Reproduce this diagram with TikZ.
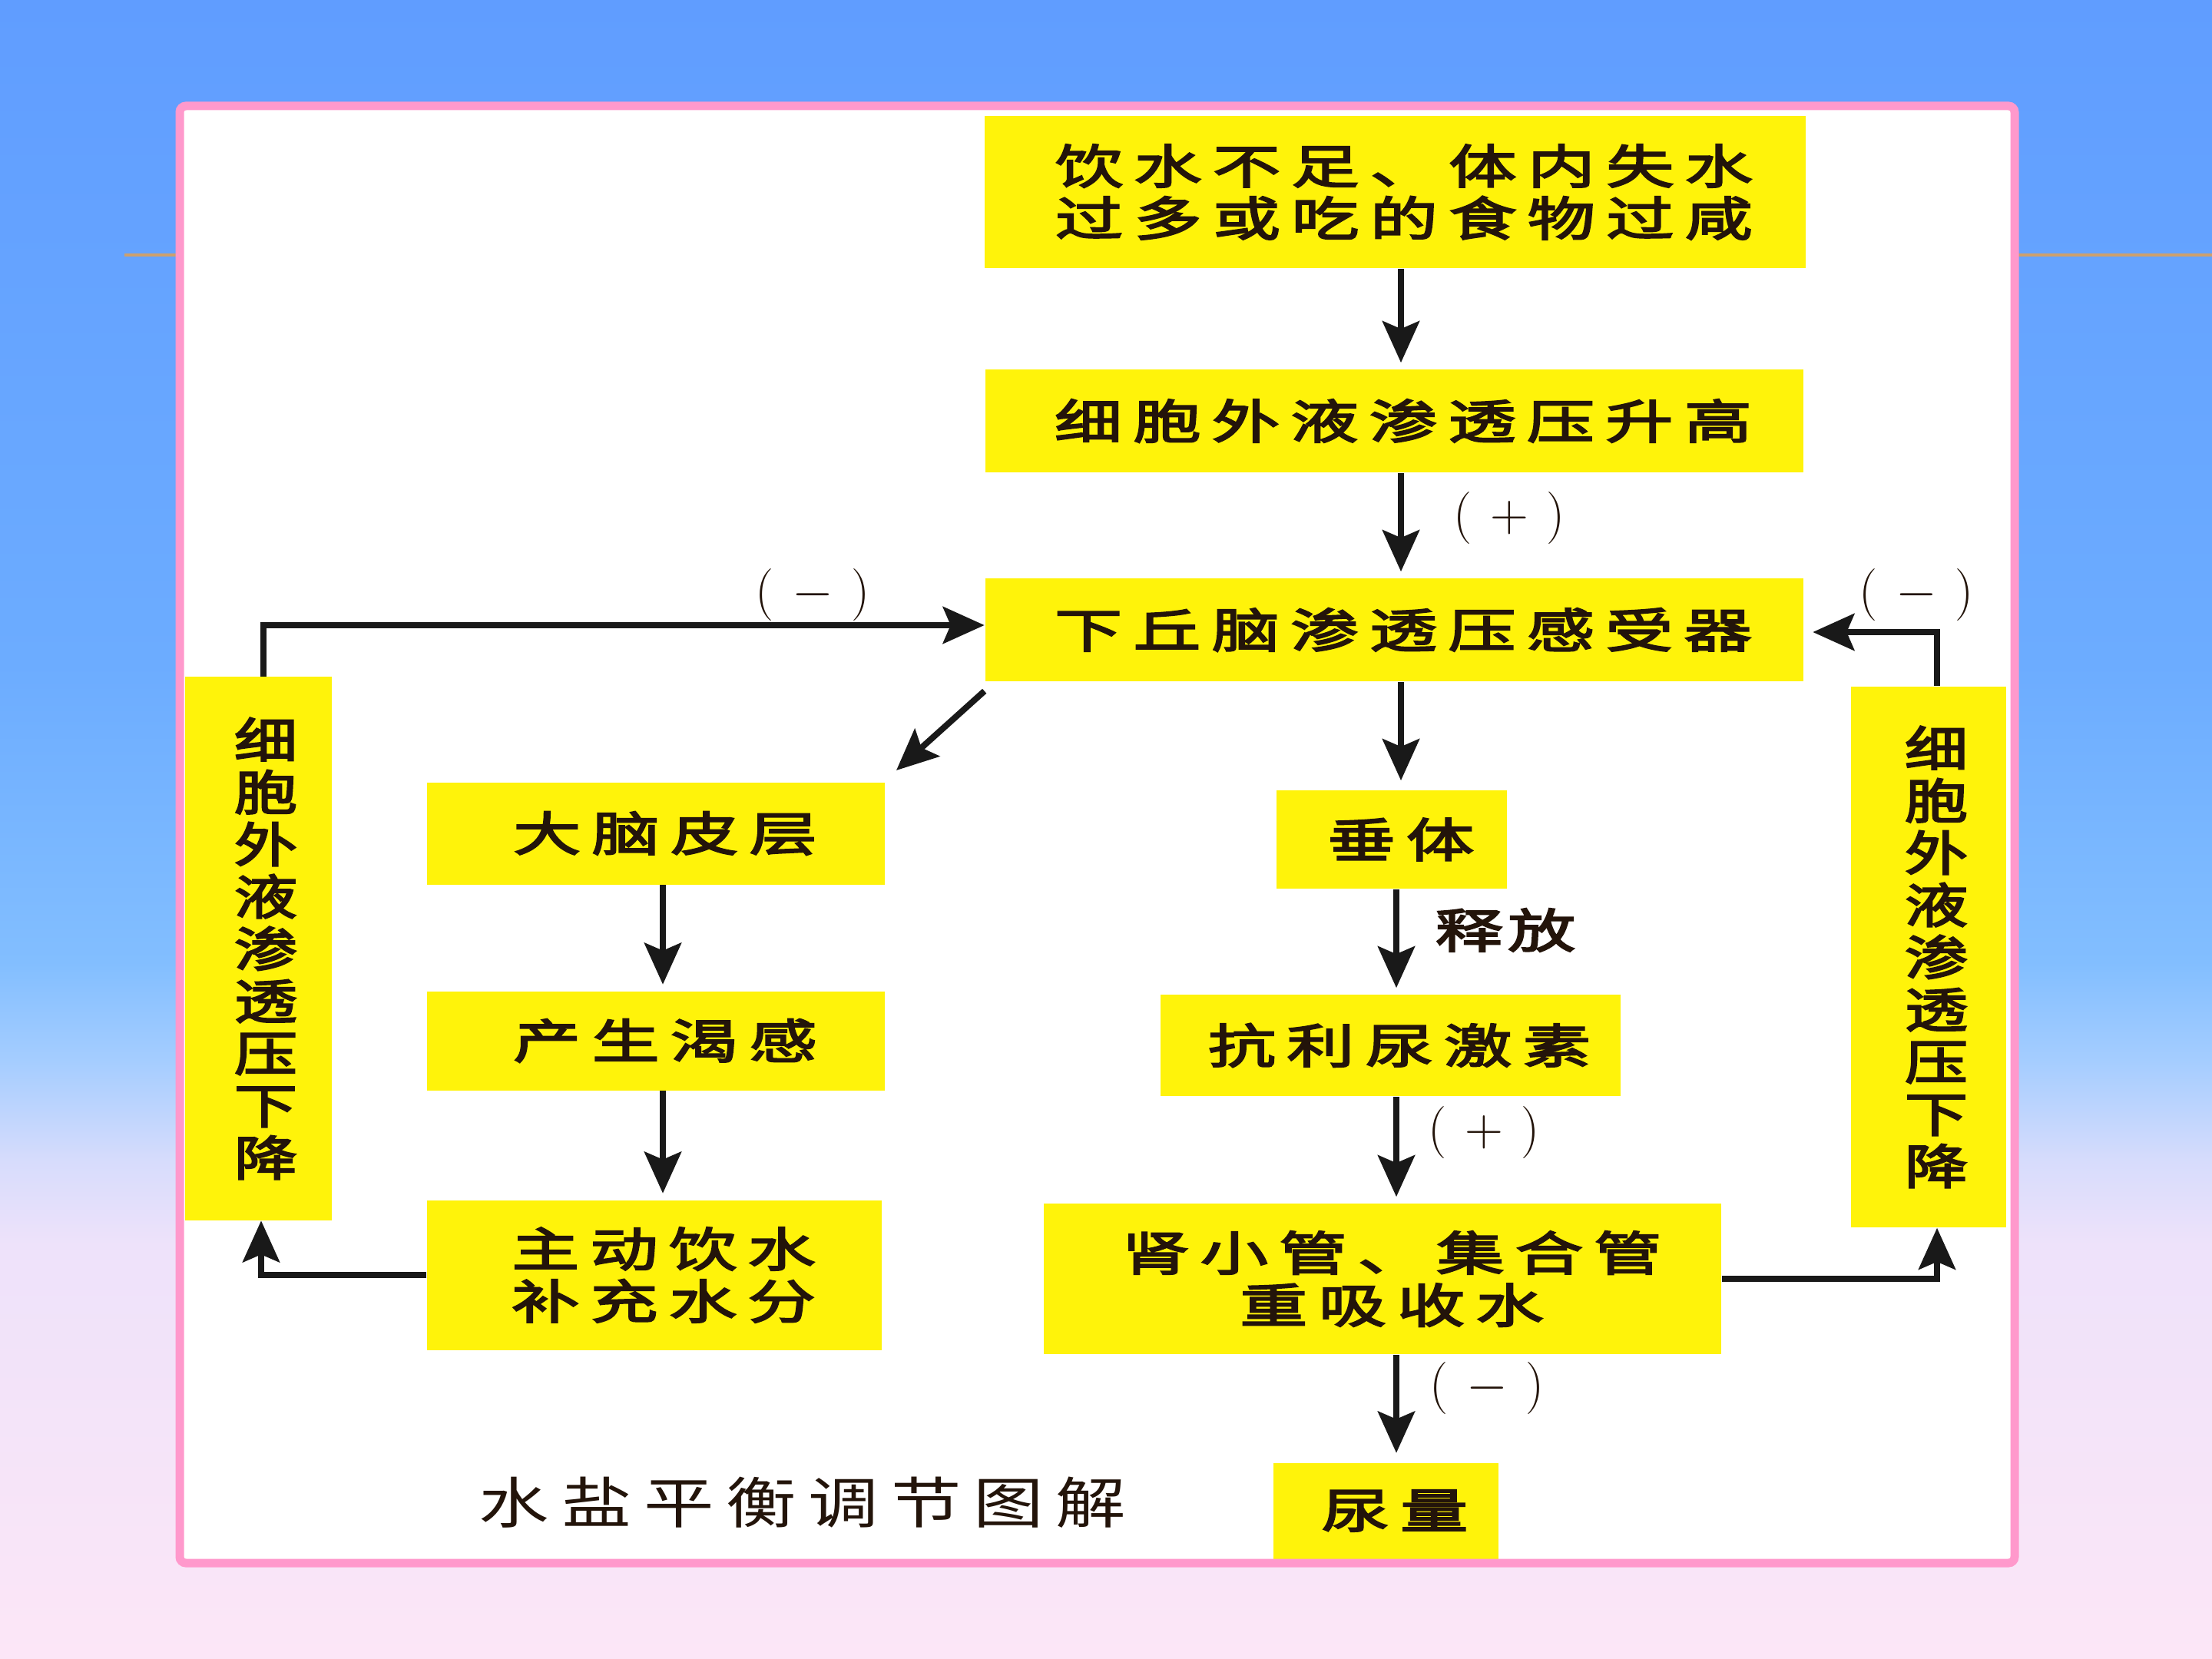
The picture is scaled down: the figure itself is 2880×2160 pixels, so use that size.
\documentclass[tikz,border=0pt]{standalone}
\usepackage{fontspec}
\usetikzlibrary{arrows.meta}
\newfontfamily\cjkbox[FakeStretch=1.45,LetterSpace=23,FakeBold=3.5]{Noto Sans CJK SC}
\newfontfamily\cjkvert[FakeStretch=1.33,FakeBold=3.5]{Noto Sans CJK SC}
\newfontfamily\cjkcap[FakeStretch=1.27,LetterSpace=22]{Noto Sans CJK SC}
\newfontfamily\cjkrel[FakeStretch=1.45,LetterSpace=10,FakeBold=3.5]{Noto Sans CJK SC}
\newcommand\sh{\hspace*{6pt}}
\newcommand\vs{\hspace*{5pt}}
\definecolor{ybox}{RGB}{255,243,10}
\definecolor{ink}{RGB}{35,20,10}
\definecolor{pinkframe}{RGB}{255,153,204}
\definecolor{tanline}{RGB}{205,160,110}
\definecolor{bgA}{RGB}{252,230,247}
\definecolor{bgB}{RGB}{238,226,250}
\definecolor{bgC}{RGB}{215,220,252}
\definecolor{bgD}{RGB}{165,205,255}
\definecolor{bgE}{RGB}{130,190,255}
\definecolor{bgF}{RGB}{108,172,255}
\definecolor{bgG}{RGB}{96,157,255}
\pgfdeclareverticalshading{bgshade}{100bp}{color(0bp)=(bgA); color(25bp)=(bgA); color(37.5bp)=(bgB); color(40bp)=(bgC); color(43bp)=(bgD); color(46bp)=(bgE); color(55bp)=(bgF); color(75bp)=(bgG); color(100bp)=(bgG)}
\begin{document}
\begin{tikzpicture}[x=0.25pt,y=-0.25pt,
  box/.style={fill=ybox, inner sep=0pt, text=ink, align=center,
    font=\cjkbox\fontsize{15.25pt}{17pt}\selectfont},
  vbox/.style={fill=ybox, inner sep=0pt, text=ink, align=center,
    font=\cjkvert\fontsize{15.5pt}{17pt}\selectfont},
  arr/.style={draw=black!90, line width=2pt, -{Stealth[length=13.5pt,width=12pt,inset=2.5pt]}},
  sign/.style={text=ink, inner sep=0pt, font=\fontsize{17pt}{19pt}\selectfont}]
\shade[shading=bgshade] (0,0) rectangle (2880,2160);
\useasboundingbox (0,0) rectangle (2880,2160);
\draw[tanline, line width=1pt] (162,332) -- (2880,332);
\fill[white] (234,138) rectangle (2623,2035);

% boxes
\node[box, minimum width=267.25pt, minimum height=49.5pt] (B1) at (1816,250) {\sh 饮水不足、体内失水\\\sh 过多或吃的食物过咸};
\node[box, minimum width=266.25pt, minimum height=33.5pt] (B2) at (1815,548) {\sh 细胞外液渗透压升高};
\node[box, minimum width=266.25pt, minimum height=33.5pt] (B3) at (1815,820) {\sh 下丘脑渗透压感受器};
\node[box, minimum width=149pt, minimum height=33.25pt] (B4) at (854,1085) {\sh 大脑皮层};
\node[box, minimum width=149pt, minimum height=32.25pt] (B5) at (854,1355) {\sh 产生渴感};
\node[box, minimum width=148pt, minimum height=48.75pt] (B6) at (852,1660) {\sh 主动饮水\\\sh 补充水分};
\node[box, minimum width=75pt, minimum height=32pt] (B7) at (1812,1093) {\sh 垂体};
\node[box, minimum width=149.75pt, minimum height=33pt] (B8) at (1810,1361) {\sh 抗利尿激素};
\node[box, minimum width=220.5pt, minimum height=49pt] (B9) at (1800,1665) {\sh 肾小管、集合管\\\sh 重吸收水};
\node[box, minimum width=73.25pt, minimum height=31.25pt] (B10) at (1804,1967) {\sh 尿量};
\node[vbox, minimum width=47.75pt, minimum height=176.75pt] (L) at (336,1235) {\vs 细\\\vs 胞\\\vs 外\\\vs 液\\\vs 渗\\\vs 透\\\vs 压\\\vs 下\\\vs 降};
\node[vbox, minimum width=50.5pt, minimum height=176pt] (R) at (2511,1246) {\vs 细\\\vs 胞\\\vs 外\\\vs 液\\\vs 渗\\\vs 透\\\vs 压\\\vs 下\\\vs 降};

% labels
\node[sign] (p1) at (1965,675) {(\hspace{6pt}$+$\hspace{6pt})};
\node[sign] (m1) at (1058,775) {(\hspace{6pt}$-$\hspace{6pt})};
\node[sign] (m2) at (2495,775) {(\hspace{6pt}$-$\hspace{6pt})};
\node[sign] (p2) at (1932,1475) {(\hspace{6pt}$+$\hspace{6pt})};
\node[sign] (m3) at (1936,1808) {(\hspace{6pt}$-$\hspace{6pt})};
\node[text=ink, inner sep=0pt, font=\cjkrel\fontsize{15.25pt}{17pt}\selectfont] (rel) at (1960,1211) {释放};
\node[text=ink, inner sep=0pt, font=\cjkcap\fontsize{18pt}{20pt}\selectfont] (cap) at (1045,1956) {水盐平衡调节图解};

% connectors
\coordinate (xa) at (1824,0);
\coordinate (xb) at (1818,0);
\coordinate (xc) at (863,0);
\coordinate (dg) at (1167,1003);
\draw[arr, shorten >=2pt] (B1.south -| xa) -- (B2.north -| xa);
\draw[arr, shorten >=2pt] (B2.south -| xa) -- (B3.north -| xa);
\draw[arr, shorten >=3pt] (B3.south -| xa) -- (B7.north -| xa);
\draw[arr, shorten >=2pt] (B7.south -| xb) -- (B8.north -| xb);
\draw[arr, shorten >=2pt] (B8.south -| xb) -- (B9.north -| xb);
\draw[arr, shorten >=3pt] (B9.south -| xb) -- (B10.north -| xb);
\draw[arr, shorten >=2pt] (B4.south -| xc) -- (B5.north -| xc);
\draw[arr, shorten >=2pt] (B5.south -| xc) -- (B6.north -| xc);
\draw[arr] ([yshift=-3pt]B3.south west) -- (dg);
\draw[arr] ([xshift=1.75pt]L.north) |- ([yshift=1.5pt]B3.west);
\draw[arr, shorten >=3pt] ([xshift=2.75pt]R.north) |- ([yshift=-0.75pt]B3.east);
\draw[arr] (B6.west) -| ([xshift=1pt]L.south);
\draw[arr] (B9.east) -| ([xshift=2.75pt]R.south);

\draw[pinkframe, line width=2.75pt, rounded corners=2pt] (234,138) rectangle (2623,2035);
\end{tikzpicture}
\end{document}
